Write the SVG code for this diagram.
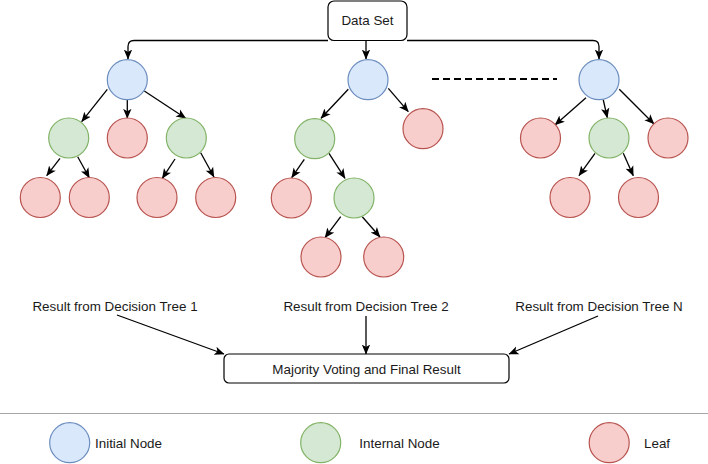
<svg xmlns="http://www.w3.org/2000/svg" width="708" height="464" viewBox="0 0 708 464">
<style>
.t{font-family:"Liberation Sans",Arial,sans-serif;font-size:13.4px;fill:#1a1a1a}
.box{fill:#fff;stroke:#000;stroke-width:1.2}
.ini{fill:#dae8fc;stroke:#6c8ebf;stroke-width:1.2}
.int{fill:#d5e8d4;stroke:#82b366;stroke-width:1.2}
.leaf{fill:#f8cecc;stroke:#b85450;stroke-width:1.2}
.e{fill:none;stroke:#000;stroke-width:1.3;marker-end:url(#ah)}
</style>
<defs>
<marker id="ah" markerUnits="userSpaceOnUse" markerWidth="10" markerHeight="10" viewBox="0 0 10 10" refX="9.5" refY="5" orient="auto">
<path d="M0,0.8 L10,5 L0,9.2 L2.5,5 z" fill="#000"/>
</marker>
</defs>
<rect width="708" height="464" fill="#fff"/>

<g id="connectors">
<path class="e" d="M 328 40.5 H 134 Q 128 40.5 128 46.5 V 59"/>
<path class="e" d="M 407 40.5 H 593 Q 599 40.5 599 46.5 V 59"/>
<path class="e" d="M 366 40.5 V 59"/>
<line x1="432" y1="79" x2="557" y2="79" stroke="#000" stroke-width="2" stroke-dasharray="7 4"/>
<!-- tree 1 -->
<line class="e" x1="107.3" y1="89.3" x2="81.7" y2="121.7"/>
<line class="e" x1="127.3" y1="99.5" x2="127.3" y2="118.3"/>
<line class="e" x1="144.3" y1="91" x2="185.7" y2="118.3"/>
<line class="e" x1="60" y1="158.3" x2="46.7" y2="175.7"/>
<line class="e" x1="77.7" y1="156.7" x2="89.3" y2="177.7"/>
<line class="e" x1="175" y1="159" x2="162.3" y2="178.3"/>
<line class="e" x1="200.7" y1="152.7" x2="214" y2="177"/>
<!-- tree 2 -->
<line class="e" x1="348.3" y1="89.3" x2="321" y2="118.3"/>
<line class="e" x1="388.3" y1="88.3" x2="408.3" y2="111.7"/>
<line class="e" x1="304.3" y1="159.3" x2="291.7" y2="177.7"/>
<line class="e" x1="329" y1="153.3" x2="345" y2="178.3"/>
<line class="e" x1="340.7" y1="216.7" x2="325" y2="237.7"/>
<line class="e" x1="362.3" y1="216.7" x2="380" y2="237"/>
<!-- tree N -->
<line class="e" x1="586" y1="97.7" x2="555" y2="125"/>
<line class="e" x1="603.3" y1="100" x2="607.3" y2="117.7"/>
<line class="e" x1="619.3" y1="89.3" x2="654" y2="124"/>
<line class="e" x1="595" y1="153.3" x2="579" y2="175.7"/>
<line class="e" x1="623.3" y1="153.3" x2="633.3" y2="175.7"/>
<!-- results -->
<line class="e" x1="117" y1="315" x2="224" y2="354"/>
<line class="e" x1="366" y1="316" x2="366" y2="354"/>
<line class="e" x1="598" y1="316" x2="509" y2="354"/>
</g>

<g id="dataset"><rect class="box" x="328" y="1" width="79" height="39.5" rx="6"/><text class="t" x="367.5" y="25" text-anchor="middle">Data Set</text></g>

<g id="tree1">
<circle id="t1-root" class="ini" cx="127.3" cy="79.7" r="20"/>
<circle id="t1-a" class="int" cx="68.7" cy="138" r="20"/>
<circle id="t1-b" class="leaf" cx="127.3" cy="138" r="20"/>
<circle id="t1-c" class="int" cx="186.3" cy="138" r="20"/>
<circle id="t1-d" class="leaf" cx="40.3" cy="197.5" r="20"/>
<circle id="t1-e" class="leaf" cx="89.3" cy="197.5" r="20"/>
<circle id="t1-f" class="leaf" cx="157" cy="197.5" r="20"/>
<circle id="t1-g" class="leaf" cx="215.7" cy="197.5" r="20"/>
</g>

<g id="tree2">
<circle id="t2-root" class="ini" cx="368" cy="79.7" r="20"/>
<circle id="t2-a" class="int" cx="314.7" cy="138.7" r="20"/>
<circle id="t2-b" class="leaf" cx="423" cy="128.7" r="20"/>
<circle id="t2-c" class="leaf" cx="291.3" cy="198" r="20"/>
<circle id="t2-d" class="int" cx="354" cy="198" r="20"/>
<circle id="t2-e" class="leaf" cx="321" cy="257" r="20"/>
<circle id="t2-f" class="leaf" cx="383.7" cy="257" r="20"/>
</g>

<g id="treeN">
<circle id="tn-root" class="ini" cx="599" cy="79.7" r="20"/>
<circle id="tn-a" class="leaf" cx="540.5" cy="138" r="20"/>
<circle id="tn-b" class="int" cx="609" cy="138" r="20"/>
<circle id="tn-c" class="leaf" cx="668" cy="138" r="20"/>
<circle id="tn-d" class="leaf" cx="570" cy="197.5" r="20"/>
<circle id="tn-e" class="leaf" cx="638.5" cy="197.5" r="20"/>
</g>

<g id="result1"><text class="t" x="115" y="311" text-anchor="middle">Result from Decision Tree 1</text></g>
<g id="result2"><text class="t" x="366" y="311" text-anchor="middle">Result from Decision Tree 2</text></g>
<g id="resultN"><text class="t" x="599" y="311" text-anchor="middle">Result from Decision Tree N</text></g>

<g id="majority"><rect class="box" x="224" y="354" width="285" height="29" rx="5"/><text class="t" x="366.5" y="373.5" text-anchor="middle">Majority Voting and Final Result</text></g>

<g id="legend">
<line x1="0" y1="413.5" x2="708" y2="413.5" stroke="#a6a6a6" stroke-width="1.2"/>
<circle class="ini" cx="69.7" cy="442.7" r="20"/>
<text class="t" x="95" y="447.5">Initial Node</text>
<circle class="int" cx="320.7" cy="442.7" r="20"/>
<text class="t" x="359.3" y="447.5">Internal Node</text>
<circle class="leaf" cx="609.2" cy="442.7" r="20"/>
<text class="t" x="644" y="447.5">Leaf</text>
</g>
</svg>
